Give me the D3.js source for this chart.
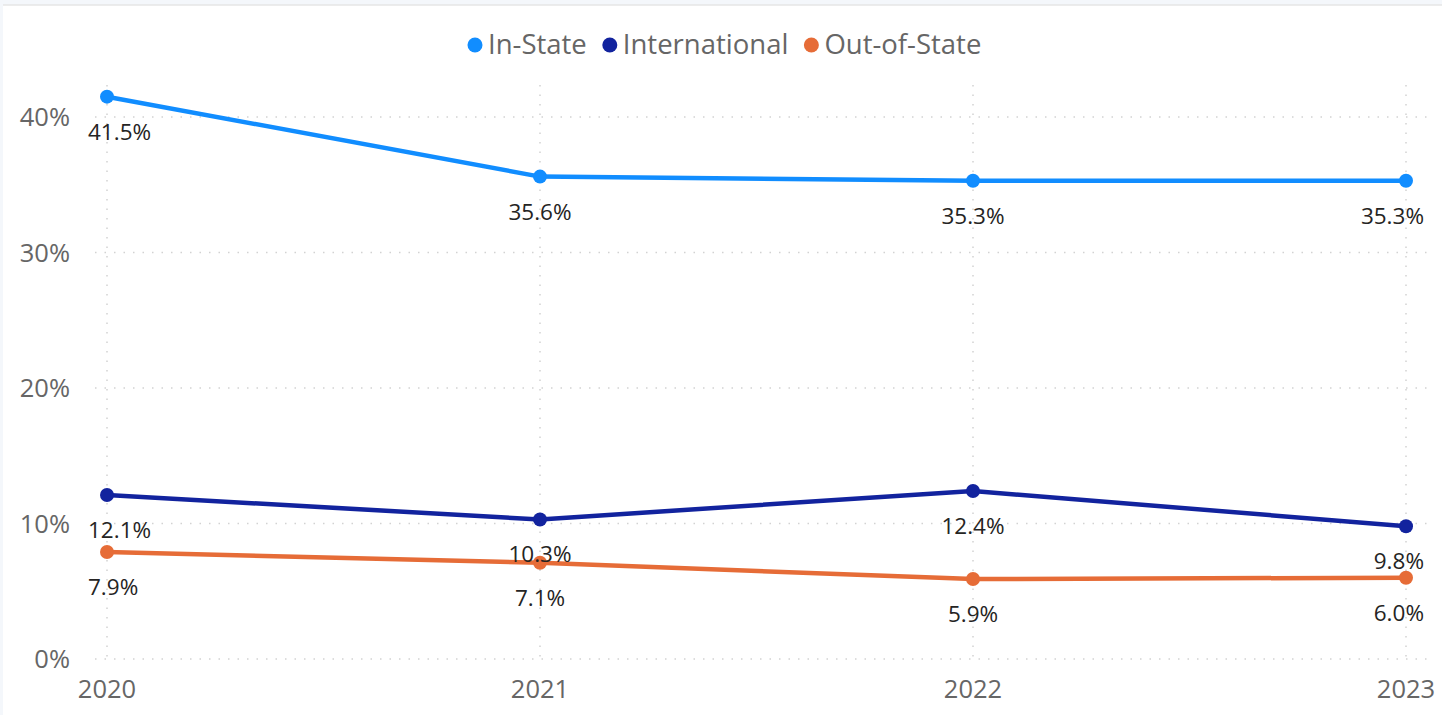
<!DOCTYPE html>
<html>
<head>
<meta charset="utf-8">
<script src="https://cdn.jsdelivr.net/npm/d3@7"></script>
<style>
  html, body { margin: 0; padding: 0; background: #f4f7fb; }
  svg { display: block; }
</style>
</head>
<body>
<svg id="chart" width="1442" height="715"></svg>
<script>
// data
const years = ["2020", "2021", "2022", "2023"]
const seriesNames = ["In-State", "International", "Out-of-State"]
const inState = [41.5, 35.6, 35.3, 35.3]
const international = [12.1, 10.3, 12.4, 9.8]
const outOfState = [7.9, 7.1, 5.9, 6.0]
const yTicks = [0, 10, 20, 30, 40]
const colors = ["#118DFF", "#12239E", "#E66C37"]

const FONT = "'Segoe UI', 'Open Sans', 'Noto Sans', sans-serif"
const W = 1442, H = 715
const svg = d3.select("#chart")

// panel
svg.append("rect").attr("x", 3).attr("y", 5).attr("width", W - 3).attr("height", H - 5)
    .attr("fill", "#fff")
svg.append("line").attr("x1", 3).attr("x2", W).attr("y1", 5).attr("y2", 5)
    .attr("stroke", "#e6e6e6").attr("stroke-width", 1.5)

const x = d3.scalePoint().domain(years).range([107, 1406])
const y = d3.scaleLinear().domain([0, 10]).range([659, 523.5])

// grid
const grid = svg.append("g")
grid.selectAll("line.h").data(yTicks).join("line")
    .attr("x1", 95).attr("x2", 1430)
    .attr("y1", d => y(d)).attr("y2", d => y(d))
    .attr("stroke", "#d2d2d2").attr("stroke-width", 1.5).attr("stroke-dasharray", "1.5,8")
grid.selectAll("line.v").data(years).join("line")
    .attr("x1", d => x(d)).attr("x2", d => x(d))
    .attr("y1", 85).attr("y2", 659)
    .attr("stroke", "#d2d2d2").attr("stroke-width", 1.5).attr("stroke-dasharray", "1.5,8")

// y axis labels
svg.append("g").selectAll("text").data(yTicks).join("text")
    .attr("x", 70).attr("y", d => y(d) + 9)
    .attr("text-anchor", "end")
    .attr("font-family", FONT).attr("font-size", 25.5).attr("fill", "#666")
    .text(d => d + "%")

// x axis labels
svg.append("g").selectAll("text").data(years).join("text")
    .attr("x", d => x(d)).attr("y", 698)
    .attr("text-anchor", "middle")
    .attr("font-family", FONT).attr("font-size", 25.5).attr("fill", "#666")
    .text(d => d)

const series = [inState, international, outOfState]
const line = d3.line().x((d, i) => x(years[i])).y(d => y(d))

series.forEach((vals, s) => {
    svg.append("path").datum(vals)
        .attr("fill", "none").attr("stroke", colors[s])
        .attr("stroke-width", 4.5).attr("stroke-linejoin", "round")
        .attr("d", line)
    svg.append("g").selectAll("circle").data(vals).join("circle")
        .attr("cx", (d, i) => x(years[i])).attr("cy", d => y(d))
        .attr("r", 7).attr("fill", colors[s])
})

// data labels (below points, kept inside plot)
series.forEach((vals, s) => {
    const g = svg.append("g")
    vals.forEach((v, i) => {
        const t = g.append("text")
            .attr("y", y(v) + 43)
            .attr("font-family", FONT).attr("font-size", 22.5).attr("fill", "#252423")
            .text(v.toFixed(1) + "%")
        const w = t.node().getComputedTextLength()
        let lx = x(years[i]) - w / 2
        lx = Math.max(88, Math.min(lx, 1424 - w))
        t.attr("x", lx)
    })
})

// legend
const legend = svg.append("g")
let lx = 467
seriesNames.forEach((name, i) => {
    legend.append("circle").attr("cx", lx + 8).attr("cy", 45).attr("r", 7.5).attr("fill", colors[i])
    const t = legend.append("text")
        .attr("x", lx + 21).attr("y", 54)
        .attr("font-family", FONT).attr("font-size", 27.5).attr("fill", "#666")
        .text(name)
    lx += 21 + t.node().getComputedTextLength() + 15
})
</script>
</body>
</html>
